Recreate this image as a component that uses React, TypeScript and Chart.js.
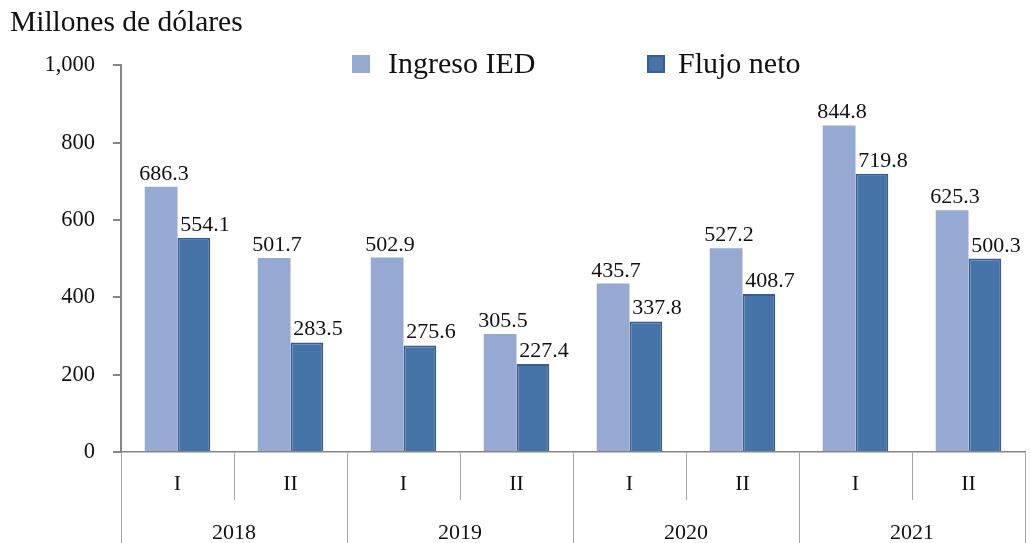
import React, { useEffect, useRef } from "react";
import { Chart, registerables } from "chart.js";

Chart.register(...registerables);

const quarters = ["I", "II", "I", "II", "I", "II", "I", "II"];
const years = ["2018", "2019", "2020", "2021"];
const ingresoIED = [686.3, 501.7, 502.9, 305.5, 435.7, 527.2, 844.8, 625.3];
const flujoNeto = [554.1, 283.5, 275.6, 227.4, 337.8, 408.7, 719.8, 500.3];
const seriesNames = ["Ingreso IED", "Flujo neto"];
const yTickValues = [0, 200, 400, 600, 800, 1000];
const titleText = "Millones de dólares";

const FONT = "'Liberation Serif', 'Times New Roman', serif";
const LIGHT = "#95A9D2";
const DARK = "#4673A8";
const DARK_BORDER = "#395D8C";
const AXIS = "#868686";

const labelShift = [3, 11];

const valueLabels = {
  id: "valueLabels",
  afterDatasetsDraw(chart: any) {
    const ctx = chart.ctx;
    ctx.save();
    ctx.font = `22px ${FONT}`;
    ctx.fillStyle = "#111";
    ctx.textAlign = "center";
    ctx.textBaseline = "alphabetic";
    chart.data.datasets.forEach((ds: any, i: number) => {
      const meta = chart.getDatasetMeta(i);
      meta.data.forEach((bar: any, j: number) => {
        const v = ds.data[j];
        ctx.fillText(Number(v).toFixed(1), bar.x + labelShift[i], bar.y - 7);
      });
    });
    ctx.restore();
  },
};

const customLegend = {
  id: "customLegend",
  afterDraw(chart: any) {
    const ctx = chart.ctx;
    const items = [
      { x: 352, textX: 388 },
      { x: 647, textX: 678 },
    ];
    ctx.save();
    ctx.font = `30px ${FONT}`;
    ctx.textBaseline = "alphabetic";
    ctx.textAlign = "left";
    chart.data.datasets.forEach((ds: any, i: number) => {
      const it = items[i];
      ctx.fillStyle = ds.backgroundColor;
      ctx.fillRect(it.x, 55, 18, 18);
      if (ds.borderWidth) {
        ctx.strokeStyle = ds.borderColor;
        ctx.lineWidth = 2;
        ctx.strokeRect(it.x + 1, 56, 16, 16);
      }
      ctx.fillStyle = "#111";
      ctx.fillText(ds.label, it.textX, 73);
    });
    ctx.restore();
  },
};

export default function App() {
  const ref = useRef<HTMLCanvasElement | null>(null);
  useEffect(() => {
    if (!ref.current) return;
    const chart = new Chart(ref.current, {
      type: "bar",
      data: {
        labels: quarters,
        datasets: [
          {
            label: seriesNames[0],
            data: ingresoIED,
            backgroundColor: LIGHT,
            borderWidth: 0,
            categoryPercentage: 0.58,
            barPercentage: 1.0,
          },
          {
            label: seriesNames[1],
            data: flujoNeto,
            backgroundColor: DARK,
            borderColor: DARK_BORDER,
            borderWidth: 2,
            categoryPercentage: 0.58,
            barPercentage: 1.0,
          },
        ],
      },
      options: {
        responsive: false,
        animation: false,
        layout: { padding: { left: 10, right: 5, top: 0, bottom: 0 } },
        plugins: {
          legend: { display: false },
          tooltip: { enabled: false },
          title: {
            display: true,
            text: titleText,
            align: "start",
            color: "#111",
            font: { family: FONT, size: 29.5, weight: "normal" },
            padding: { top: 6, bottom: 24 },
          },
        },
        scales: {
          x: {
            type: "category",
            position: "bottom",
            offset: true,
            grid: {
              offset: true,
              drawOnChartArea: false,
              drawTicks: true,
              tickLength: 48,
              color: "#A6A6A6",
              lineWidth: 1,
            },
            border: { display: true, color: AXIS, width: 1.5 },
            ticks: {
              color: "#111",
              font: { family: FONT, size: 22 },
              padding: -29,
              maxRotation: 0,
              autoSkip: false,
            },
            afterFit: (s: any) => {
              s.height = 48;
            },
          },
          years: {
            type: "category",
            position: "bottom",
            labels: years,
            offset: true,
            grid: {
              offset: true,
              drawOnChartArea: false,
              drawTicks: true,
              tickLength: 43,
              color: "#A6A6A6",
              lineWidth: 1,
            },
            border: { display: false },
            ticks: {
              color: "#111",
              font: { family: FONT, size: 22 },
              padding: -23,
              maxRotation: 0,
              autoSkip: false,
            },
            afterFit: (s: any) => {
              s.height = 43;
            },
          },
          y: {
            min: 0,
            max: 1000,
            afterBuildTicks: (s: any) => {
              s.ticks = yTickValues.map((v) => ({ value: v }));
            },
            grid: {
              drawOnChartArea: false,
              drawTicks: true,
              tickLength: 8,
              color: AXIS,
              lineWidth: 2,
            },
            border: { display: true, color: AXIS, width: 2 },
            ticks: {
              color: "#111",
              font: { family: FONT, size: 22.5 },
              padding: 18,
              callback: (v: any) => Number(v).toLocaleString("en-US"),
            },
            afterFit: (s: any) => {
              s.width = 111;
            },
          },
        },
      },
      plugins: [valueLabels, customLegend],
    } as any);
    return () => chart.destroy();
  }, []);
  return (
    <div style={{ position: "fixed", left: 0, top: 0, width: 1030, height: 543, background: "#fff" }}>
      <canvas ref={ref} width={1030} height={543} style={{ width: 1030, height: 543, display: "block" }} />
    </div>
  );
}
